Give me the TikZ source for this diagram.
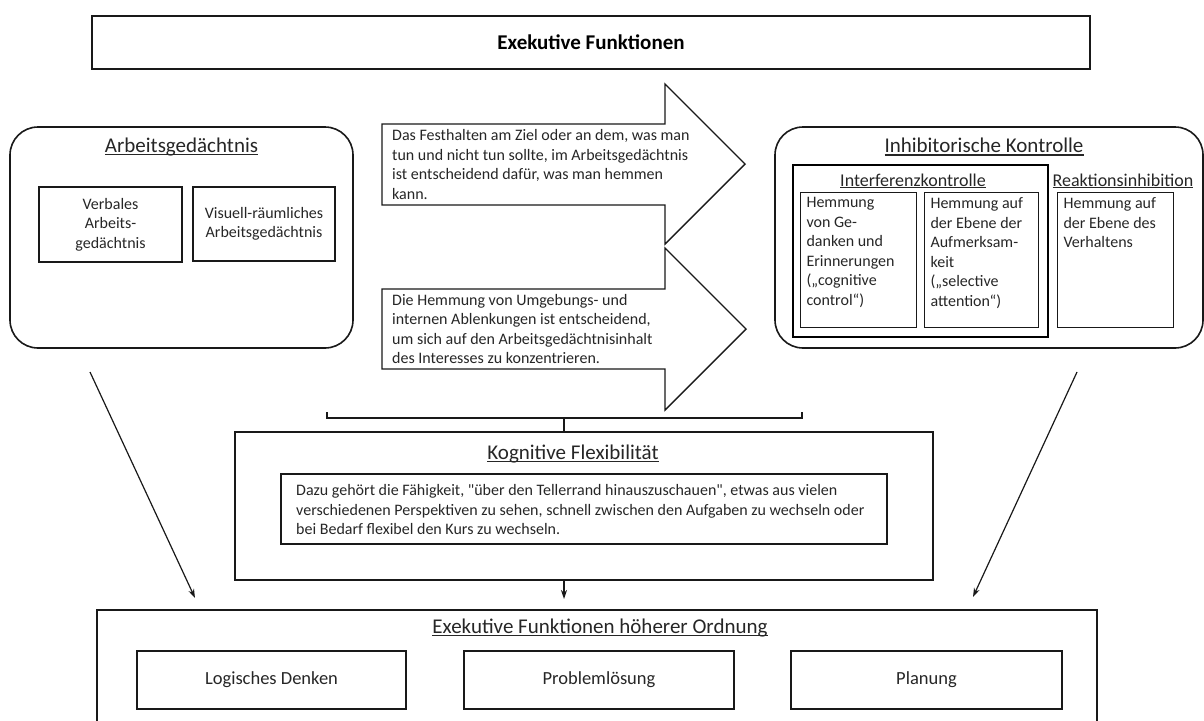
\documentclass[tikz,border=0pt]{standalone}
\usepackage{fontspec}
\setmainfont{Carlito}
\newfontfamily\qfont{Carlito}
\usetikzlibrary{arrows.meta}
\newcommand{\wordul}[1]{\leavevmode\setbox0\hbox{#1}\rlap{\rule[-0.13em]{\wd0}{0.06em}}\box0}
\newcommand{\sq}{{\qfont"}}
\begin{document}
\begin{tikzpicture}[x=1pt,y=-1pt,
  txt/.style={text=black!85, font=\fontsize{16}{19.5}\selectfont},
  box/.style={draw=black!90, line width=1.1pt, inner sep=0pt, txt},
  bigbox/.style={draw=black!90, line width=1.6pt, inner sep=0pt},
  roundbox/.style={bigbox, rounded corners=28pt},
  head/.style={text=black!85, font=\fontsize{21}{25}\selectfont, inner sep=0pt},
  subhead/.style={text=black!85, font=\fontsize{18}{22}\selectfont, inner sep=0pt},
  topbox/.style={box, anchor=north west, inner xsep=6pt, inner ysep=5pt},
  conn/.style={line width=1.2pt, draw=black!90, -{Stealth[length=9pt,width=6pt]}},
  bigarrow/.style={draw=black!90, line width=1.4pt, fill=white, line join=miter},
  bracket/.style={draw=black!90, line width=1.4pt},
]
\useasboundingbox (0,0) rectangle (1204,720);

% title
\node[bigbox, line width=2pt, minimum width=998pt, minimum height=53pt,
      font=\fontsize{21}{25}\selectfont\bfseries] (title) at (591,42.5) {Exekutive Funktionen};

% Arbeitsgedaechtnis
\node[roundbox, minimum width=343pt, minimum height=221pt] (ag) at (181.5,237.5) {};
\node[head] (aghead) at (181.5,147) {\wordul{Arbeitsgedächtnis}};
\node[box, minimum width=143pt, minimum height=75pt, align=center] (verbal) at (110.5,224.5) {Verbales\\Arbeits-\\gedächtnis};
\node[box, minimum width=142pt, minimum height=74pt, align=center] (visuell) at (264,224) {Visuell-räumliches\\Arbeitsgedächtnis};

% Inhibitorische Kontrolle
\node[roundbox, minimum width=428pt, minimum height=221pt] (ik) at (989,237.5) {};
\node[head] (ikhead) at (984,147) {\wordul{Inhibitorische Kontrolle}};
\node[draw=black, line width=2.4pt, minimum width=255pt, minimum height=172pt, inner sep=0pt] (ifk) at (920.5,251) {};
\node[subhead] (ifkhead) at (913,181) {\wordul{Interferenzkontrolle}};
\node[subhead] (rihead) at (1123,181) {\wordul{Reaktionsinhibition}};
\node[topbox] (hA) at (800,192) {\parbox[t][125pt][t]{104pt}{\raggedright Hemmung\\von Ge-\\danken und\\Erinnerungen\\(„cognitive\\control“)}};
\node[topbox] (hB) at (924,192) {\parbox[t][125pt][t]{102pt}{\raggedright Hemmung auf\\der Ebene der\\Aufmerksam-\\keit\\(„selective\\attention“)}};
\node[topbox] (hC) at (1057,192) {\parbox[t][125pt][t]{104pt}{\raggedright Hemmung auf\\der Ebene des\\Verhaltens}};

% big arrows
\draw[bigarrow] (382,124) -- (665,124) -- (665,84) -- (745,164) -- (665,244) -- (665,205) -- (382,205) -- cycle;
\node[txt, anchor=west, align=left, inner sep=0pt] (a1) at (392,164.5) {Das Festhalten am Ziel oder an dem, was man\\tun und nicht tun sollte, im Arbeitsgedächtnis\\ist entscheidend dafür, was man hemmen\\kann.};
\draw[bigarrow] (382,289) -- (665,289) -- (665,248) -- (746,329) -- (665,410) -- (665,369) -- (382,369) -- cycle;
\node[txt, anchor=west, align=left, inner sep=0pt] (a2) at (392,329) {Die Hemmung von Umgebungs- und\\internen Ablenkungen ist entscheidend,\\um sich auf den Arbeitsgedächtnisinhalt\\des Interesses zu konzentrieren.};

% Kognitive Flexibilitaet
\node[bigbox, minimum width=698pt, minimum height=148pt] (kf) at (584,506) {};
\node[head] (kfhead) at (573,454) {\wordul{Kognitive Flexibilität}};
\node[box, minimum width=606pt, minimum height=70pt] (kftext) at (584,509) {};
\node[txt, anchor=west, align=left, inner sep=0pt] (kfbody) at (296,510) {Dazu gehört die Fähigkeit, \sq über den Tellerrand hinauszuschauen\sq, etwas aus vielen\\verschiedenen Perspektiven zu sehen, schnell zwischen den Aufgaben zu wechseln oder\\bei Bedarf flexibel den Kurs zu wechseln.};

% bracket
\coordinate (bl) at (327,412);
\coordinate (br) at (802,412);
\coordinate (bm) at (564,418);
\draw[bracket] (bl) -- (bl |- bm) -- (br |- bm) -- (br);
\draw[bracket] (bm) -- (bm |- kf.north);

% hoehere Ordnung
\node[bigbox, minimum width=1000pt, minimum height=130pt] (hoe) at (597,675) {};
\node[head] (hoehead) at (600,628) {\wordul{Exekutive Funktionen höherer Ordnung}};
\node[box, font=\fontsize{18.5}{22}\selectfont, minimum width=269pt, minimum height=58pt] (logik) at (271.5,680) {Logisches Denken};
\node[box, font=\fontsize{18.5}{22}\selectfont, minimum width=270pt, minimum height=58pt] (prob) at (599,680) {Problemlösung};
\node[box, font=\fontsize{18.5}{22}\selectfont, minimum width=271pt, minimum height=58pt] (plan) at (926.5,680) {Planung};

% connectors
\coordinate (s1) at (90,372);
\coordinate (e1) at (195,598);
\draw[conn] (s1) -- (e1);
\coordinate (s2) at (1077,372);
\coordinate (e2) at (973,597);
\draw[conn] (s2) -- (e2);
\coordinate (e3) at (564,599);
\draw[conn] (kf.south -| e3) -- (e3);
\end{tikzpicture}
\end{document}
